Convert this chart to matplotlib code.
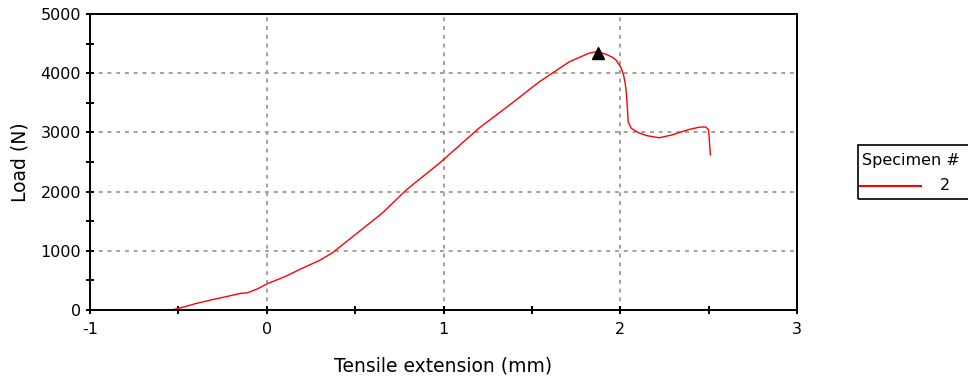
import matplotlib
matplotlib.use("Agg")
import matplotlib.pyplot as plt
from matplotlib.patches import Rectangle
from matplotlib.lines import Line2D
from matplotlib.ticker import MultipleLocator

# tensile test curve
extension = [-0.54, -0.49, -0.40, -0.30, -0.20, -0.15, -0.11, -0.05, 0.0, 0.1, 0.19,
             0.3, 0.37, 0.47, 0.655, 0.79, 0.977, 1.20, 1.39, 1.54, 1.71, 1.825,
             1.87, 1.92, 1.955, 1.977, 2.005, 2.018, 2.028, 2.035, 2.04, 2.045,
             2.062, 2.107, 2.15, 2.22, 2.29, 2.39, 2.45, 2.485, 2.50, 2.51]
load = [0, 34, 110, 180, 245, 280, 290, 360, 440, 560, 690,
        840, 963, 1200, 1640, 2030, 2480, 3070, 3500, 3850, 4190, 4340,
        4365, 4320, 4270, 4220, 4090, 3980, 3830, 3650, 3430, 3175,
        3070, 2990, 2945, 2910, 2955, 3050, 3090, 3090, 3040, 2620]
peak_x = [1.876]
peak_y = [4340]
x_ticks = [-1, 0, 1, 2, 3]
y_ticks = [0, 1000, 2000, 3000, 4000, 5000]
specimen = "2"

plt.rcParams['font.family'] = ['DejaVu Sans']
plt.rcParams['axes.unicode_minus'] = False

fig = plt.figure(figsize=(9.68, 3.83), dpi=100)
ax = fig.add_axes([90/968, 1-310/383, (797-90)/968, (310-14)/383])

ax.plot(extension, load, color='red', lw=1.0)
ax.plot(peak_x, peak_y, '^', color='black', ms=8)

ax.set_xlim(-1, 3)
ax.set_ylim(0, 5000)
ax.set_xticks(x_ticks)
ax.set_yticks(y_ticks)
ax.xaxis.set_minor_locator(MultipleLocator(0.5))
ax.yaxis.set_minor_locator(MultipleLocator(500))
ax.tick_params(which='both', direction='inout', length=6, width=1.4, labelsize=11.5, colors='black')
ax.tick_params(axis='x', pad=6)

ax.grid(True, which='major', color='#a3a190', linestyle=(0, (2, 2.5)), lw=1.4)
for s in ax.spines.values():
    s.set_linewidth(1.4)

ax.set_xlabel('Tensile extension (mm)', fontsize=13.5, labelpad=14)
ax.set_ylabel('Load (N)', fontsize=13.5, labelpad=8)

# legend box, partly cut off at the right edge like the original
W, H = 968, 383
fig.patches.append(Rectangle((858/W, 1-199/H), 130/W, 54/H, transform=fig.transFigure,
                             fill=False, edgecolor='black', lw=1.2))
fig.text(862/W, 1-160/H, 'Specimen #', fontsize=11.5, va='center', ha='left')
fig.lines.append(Line2D([860/W, 921/W], [1-186/H, 1-186/H], transform=fig.transFigure,
                        color='red', lw=1.5))
fig.text(945/W, 1-186/H, specimen, fontsize=11.5, va='center', ha='center')

fig.savefig('out.png', dpi=100)
